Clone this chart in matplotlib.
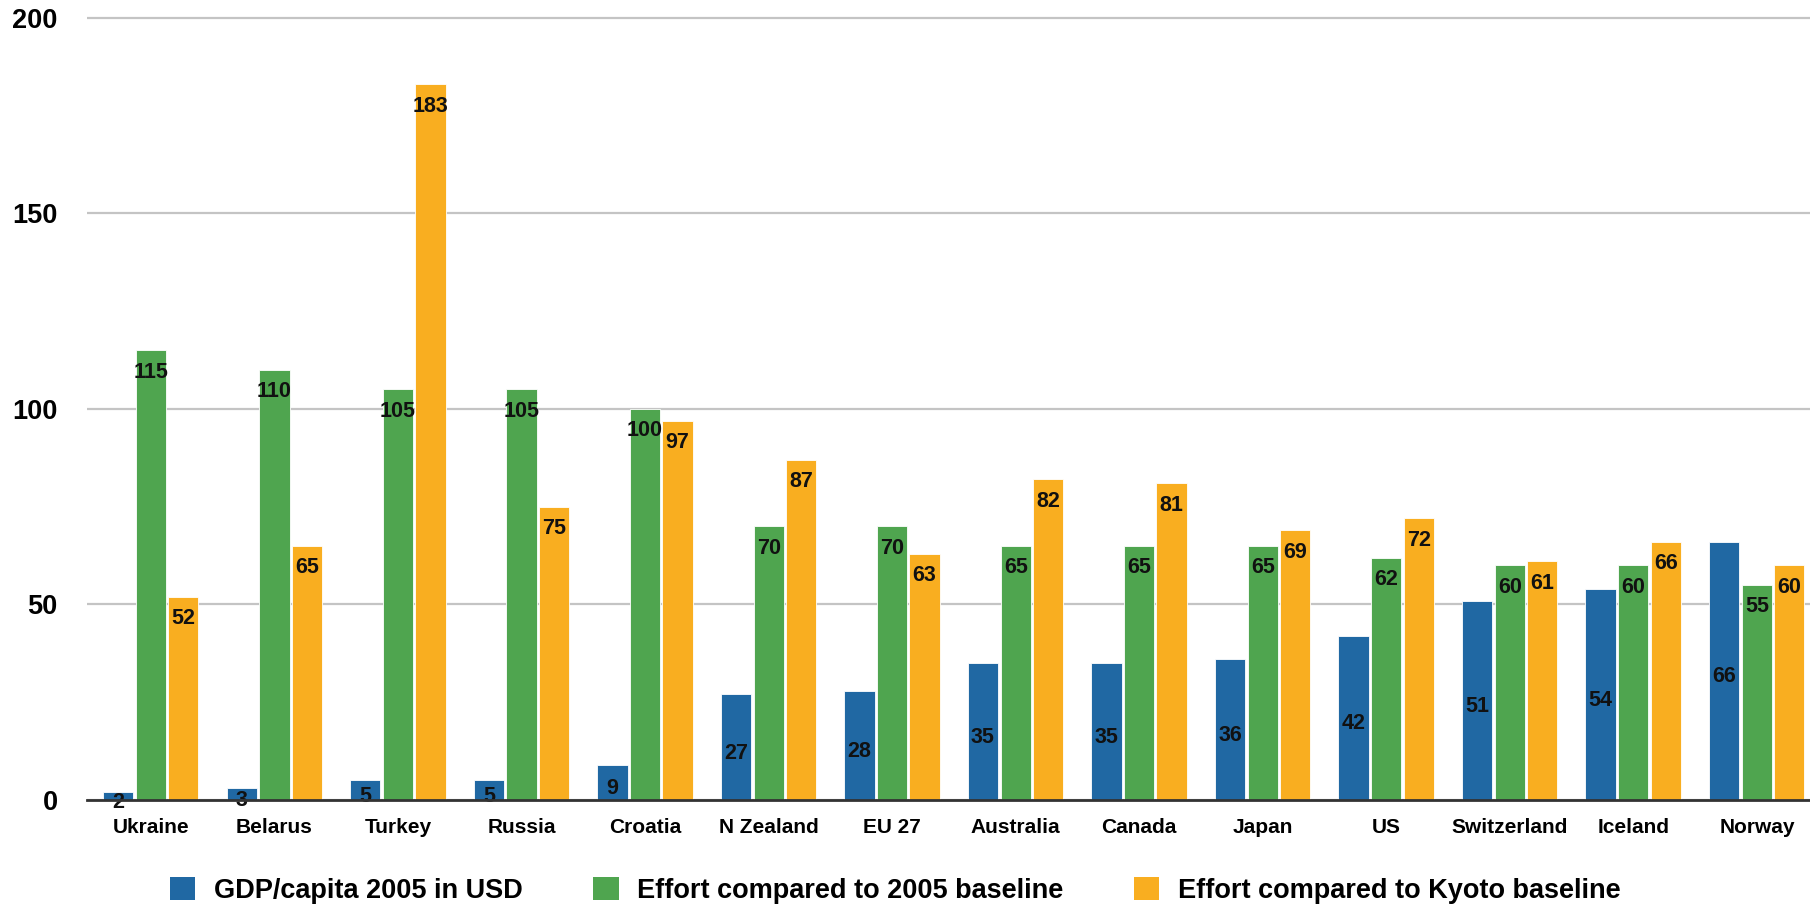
import numpy as np
import matplotlib
matplotlib.use("Agg")
import matplotlib.pyplot as plt
from matplotlib.patches import Patch

plt.rcParams["font.family"] = ["Liberation Sans", "DejaVu Sans"]

countries = ["Ukraine", "Belarus", "Turkey", "Russia", "Croatia", "N Zealand", "EU 27",
             "Australia", "Canada", "Japan", "US", "Switzerland", "Iceland", "Norway"]
gdp_per_capita = [2, 3, 5, 5, 9, 27, 28, 35, 35, 36, 42, 51, 54, 66]
effort_2005 = [115, 110, 105, 105, 100, 70, 70, 65, 65, 65, 62, 60, 60, 55]
effort_kyoto = [52, 65, 183, 75, 97, 87, 63, 82, 81, 69, 72, 61, 66, 60]

series_names = ["GDP/capita 2005 in USD", "Effort compared to 2005 baseline",
                "Effort compared to Kyoto baseline"]
colors = ["#2068a3", "#4fa54f", "#f9ae20"]

fig = plt.figure(figsize=(18.10, 9.07), dpi=100)
ax = fig.add_axes([87 / 1810, 107 / 907, 1 - 87 / 1810, (800 - 16) / 907])

x = np.arange(len(countries))
width = 0.245
offsets = [-0.265, 0.0, 0.262]

for vals, off, col in zip([gdp_per_capita, effort_2005, effort_kyoto], offsets, colors):
    ax.bar(x + off, vals, width, color=col, edgecolor="#ffffff", linewidth=0.6, zorder=3)

# value labels: GDP in the middle of the bar, the two efforts just under the top
for xi, v in zip(x, gdp_per_capita):
    ax.annotate(str(v), (xi + offsets[0], v / 2), xytext=(0, -6), textcoords="offset pixels",
                ha="center", va="center", fontsize=15.5, fontweight="bold", color="#111111", zorder=4)
for vals, off in [(effort_2005, offsets[1]), (effort_kyoto, offsets[2])]:
    for xi, v in zip(x, vals):
        ax.annotate(str(v), (xi + off, v), xytext=(0, -22), textcoords="offset pixels",
                    ha="center", va="center", fontsize=15.5, fontweight="bold", color="#111111", zorder=4)

ax.set_xlim(-0.518, 13.43)
ax.set_ylim(0, 200.5)
ax.set_yticks([0, 50, 100, 150, 200])
ax.yaxis.grid(True, color="#c4c4c4", linewidth=1.6, zorder=0)
ax.set_axisbelow(True)

ax.set_xticks(x)
ax.set_xticklabels(countries, fontsize=15, fontweight="bold")
ax.tick_params(axis="x", length=0, pad=13)
ax.tick_params(axis="y", length=0, pad=21, labelsize=19.5)
for lbl in ax.get_yticklabels():
    lbl.set_fontweight("bold")

for side in ["top", "right", "left"]:
    ax.spines[side].set_visible(False)
ax.spines["bottom"].set_color("#333333")
ax.spines["bottom"].set_linewidth(2)
ax.spines["bottom"].set_zorder(5)

handles = [Patch(facecolor=c, edgecolor="none") for c in colors]
fig.legend(handles, series_names, loc="center left", bbox_to_anchor=(170 / 1810, 16.5 / 907),
           ncol=3, frameon=False, borderpad=0, borderaxespad=0,
           handlelength=0.93, handleheight=0.93, handletextpad=0.7, columnspacing=2.6,
           prop={"size": 19.5, "weight": "bold"})

fig.savefig("out.png", dpi=100)
